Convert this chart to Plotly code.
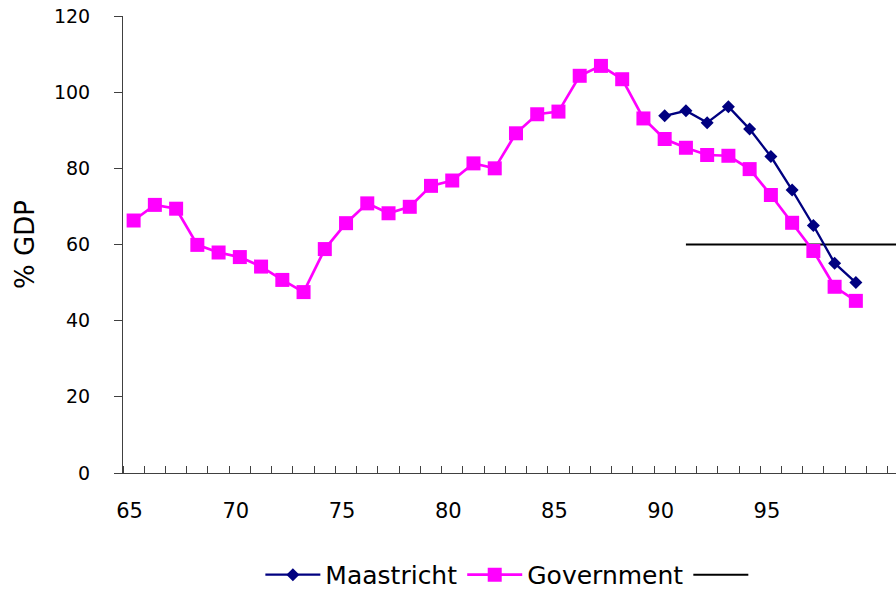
import plotly.graph_objects as go

gov_years = list(range(1965, 2000))
gov_values = [66.3, 70.4, 69.4, 59.9, 57.9, 56.7, 54.2, 50.7, 47.5, 58.8,
              65.6, 70.8, 68.2, 69.9, 75.4, 76.8, 81.3, 80.0, 89.2, 94.2,
              94.9, 104.3, 106.9, 103.4, 93.1, 87.7, 85.4, 83.5, 83.3, 79.8,
              73.0, 65.7, 58.3, 48.9, 45.2]

maas_years = list(range(1990, 2000))
maas_values = [93.8, 95.1, 92.0, 96.2, 90.3, 83.1, 74.3, 65.0, 55.1, 50.0]

ref_years = list(range(1991, 2002))
ref_values = [60] * len(ref_years)

label_years = [1965, 1970, 1975, 1980, 1985, 1990, 1995]
label_text = ["65", "70", "75", "80", "85", "90", "95"]
boundaries = [y - 0.5 for y in range(1965, 2002)]

FONT = "DejaVu Sans, Liberation Sans, Arial, sans-serif"

fig = go.Figure()
fig.add_trace(go.Scatter(x=ref_years, y=ref_values, mode="lines", name=" ",
                         line=dict(color="black", width=2), legendrank=3))
fig.add_trace(go.Scatter(x=gov_years, y=gov_values, mode="lines+markers", name="Government",
                         line=dict(color="#FF00FF", width=2.7),
                         marker=dict(symbol="square", size=14, color="#FF00FF"),
                         legendrank=2))
fig.add_trace(go.Scatter(x=maas_years, y=maas_values, mode="lines+markers", name="Maastricht",
                         line=dict(color="#000080", width=2.3),
                         marker=dict(symbol="diamond", size=10, color="#000080"),
                         legendrank=1))

fig.update_layout(
    width=896, height=590,
    margin=dict(l=123, r=0, t=16, b=117, autoexpand=False),
    paper_bgcolor="white", plot_bgcolor="white",
    font=dict(family=FONT, size=19, color="black"),
    legend=dict(orientation="h", x=0.505, xanchor="center", y=-0.223, yanchor="middle",
                font=dict(size=25, family=FONT), itemwidth=55),
    xaxis=dict(range=[1964.5, 2000.89], showgrid=False, zeroline=False, automargin=False,
               showline=True, linecolor="#404040", linewidth=1,
               tickmode="array", tickvals=label_years, ticktext=label_text,
               tickfont=dict(size=21),
               ticks="", ticklabelstandoff=19, ticklabelshift=-4,
               minor=dict(tickmode="array", tickvals=boundaries, ticks="inside",
                          ticklen=7, tickcolor="#404040", tickwidth=1, showgrid=False)),
    yaxis=dict(range=[0, 120], dtick=20, showgrid=False, zeroline=False, automargin=False,
               showline=True, linecolor="#404040", linewidth=1,
               ticks="outside", ticklen=8, tickcolor="#404040",
               ticklabelstandoff=20,
               title=dict(text="% GDP", font=dict(size=26), standoff=11)),
)

fig.write_html("out.html", config={"displayModeBar": False},
               post_script="document.body.style.margin='0';document.body.style.overflow='hidden';")
